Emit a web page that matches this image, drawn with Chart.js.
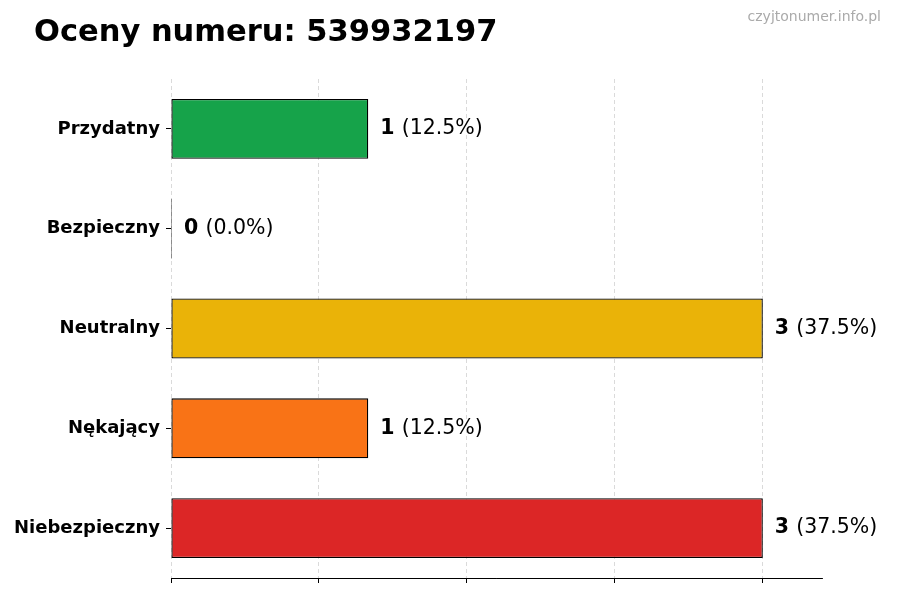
<!DOCTYPE html>
<html>
<head>
<meta charset="utf-8">
<script src="https://cdn.jsdelivr.net/npm/chart.js@4/dist/chart.umd.min.js"></script>
<style>
  html, body { margin: 0; padding: 0; background: #fff; }
  #wrap { width: 900px; height: 600px; }
</style>
</head>
<body>
<div id="wrap"><canvas id="c" width="900" height="600"></canvas></div>
<script>
const titleText = 'Oceny numeru: 539932197';
const watermarkText = 'czyjtonumer.info.pl';
const categories = ['Przydatny', 'Bezpieczny', 'Neutralny', 'Nękający', 'Niebezpieczny'];
const values = [1, 0, 3, 1, 3];
const barColors = ['#16a34a', '#2563eb', '#eab308', '#f97316', '#dc2626'];
const xTickValues = [0, 0.75, 1.5, 2.25, 3];
const xMax = 3.3;

const FONT = '"DejaVu Sans", "Noto Sans", sans-serif';
const total = values.reduce((a, b) => a + b, 0);

const labelPlugin = {
  id: 'customLabels',
  afterDraw(chart) {
    const ctx = chart.ctx;
    ctx.save();
    // Title
    ctx.fillStyle = '#000';
    ctx.font = 'bold 30.5px ' + FONT;
    ctx.textAlign = 'left';
    ctx.textBaseline = 'alphabetic';
    ctx.fillText(titleText, 34, 41);
    // Watermark
    ctx.fillStyle = '#aaaaaa';
    ctx.font = '14px ' + FONT;
    ctx.textAlign = 'right';
    ctx.textBaseline = 'middle';
    ctx.fillText(watermarkText, 881, 17);
    // Value labels
    const meta = chart.getDatasetMeta(0);
    meta.data.forEach((el, i) => {
      const v = values[i];
      const pct = total ? (v / total * 100).toFixed(1) : '0.0';
      const x = Math.max(el.x, el.base) + 12;
      const y = el.y;
      ctx.fillStyle = '#000';
      ctx.textAlign = 'left';
      ctx.textBaseline = 'middle';
      ctx.font = 'bold 20.5px ' + FONT;
      const a = String(v);
      ctx.fillText(a, x, y);
      const w = ctx.measureText(a + ' ').width;
      ctx.font = '20.5px ' + FONT;
      ctx.fillText('(' + pct + '%)', x + w, y);
    });
    ctx.restore();
  }
};

new Chart(document.getElementById('c'), {
  type: 'bar',
  data: {
    labels: categories,
    datasets: [{
      data: values,
      backgroundColor: barColors,
      borderColor: '#000',
      borderWidth: 1.3,
      borderSkipped: false,
      barPercentage: 0.6,
      categoryPercentage: 1.0,
      minBarLength: 1
    }]
  },
  options: {
    indexAxis: 'y',
    responsive: false,
    animation: false,
    devicePixelRatio: 1,
    layout: { padding: { top: 79, right: 78, left: 0, bottom: 0 } },
    plugins: { legend: { display: false }, tooltip: { enabled: false }, title: { display: false } },
    scales: {
      x: {
        min: 0,
        max: xMax,
        afterBuildTicks(scale) { scale.ticks = xTickValues.map(v => ({ value: v })); },
        afterFit(scale) { scale.height = 22; },
        ticks: { display: false },
        grid: {
          display: true,
          drawOnChartArea: true,
          drawTicks: true,
          tickLength: 5,
          color: '#d0d0d0',
          lineWidth: 0.8,
          tickColor: '#000',
          tickWidth: 1,
          tickBorderDash: []
        },
        border: { display: true, color: '#000', width: 1, dash: [4, 3] }
      },
      y: {
        afterFit(scale) { scale.width = 171; },
        ticks: {
          color: '#000',
          padding: 6,
          font: { family: FONT, size: 18, weight: 'bold' }
        },
        grid: {
          display: true,
          offset: false,
          drawOnChartArea: false,
          drawTicks: true,
          tickLength: 5,
          tickColor: '#000',
          tickWidth: 1
        },
        border: { display: false }
      }
    }
  },
  plugins: [labelPlugin]
});
</script>
</body>
</html>
